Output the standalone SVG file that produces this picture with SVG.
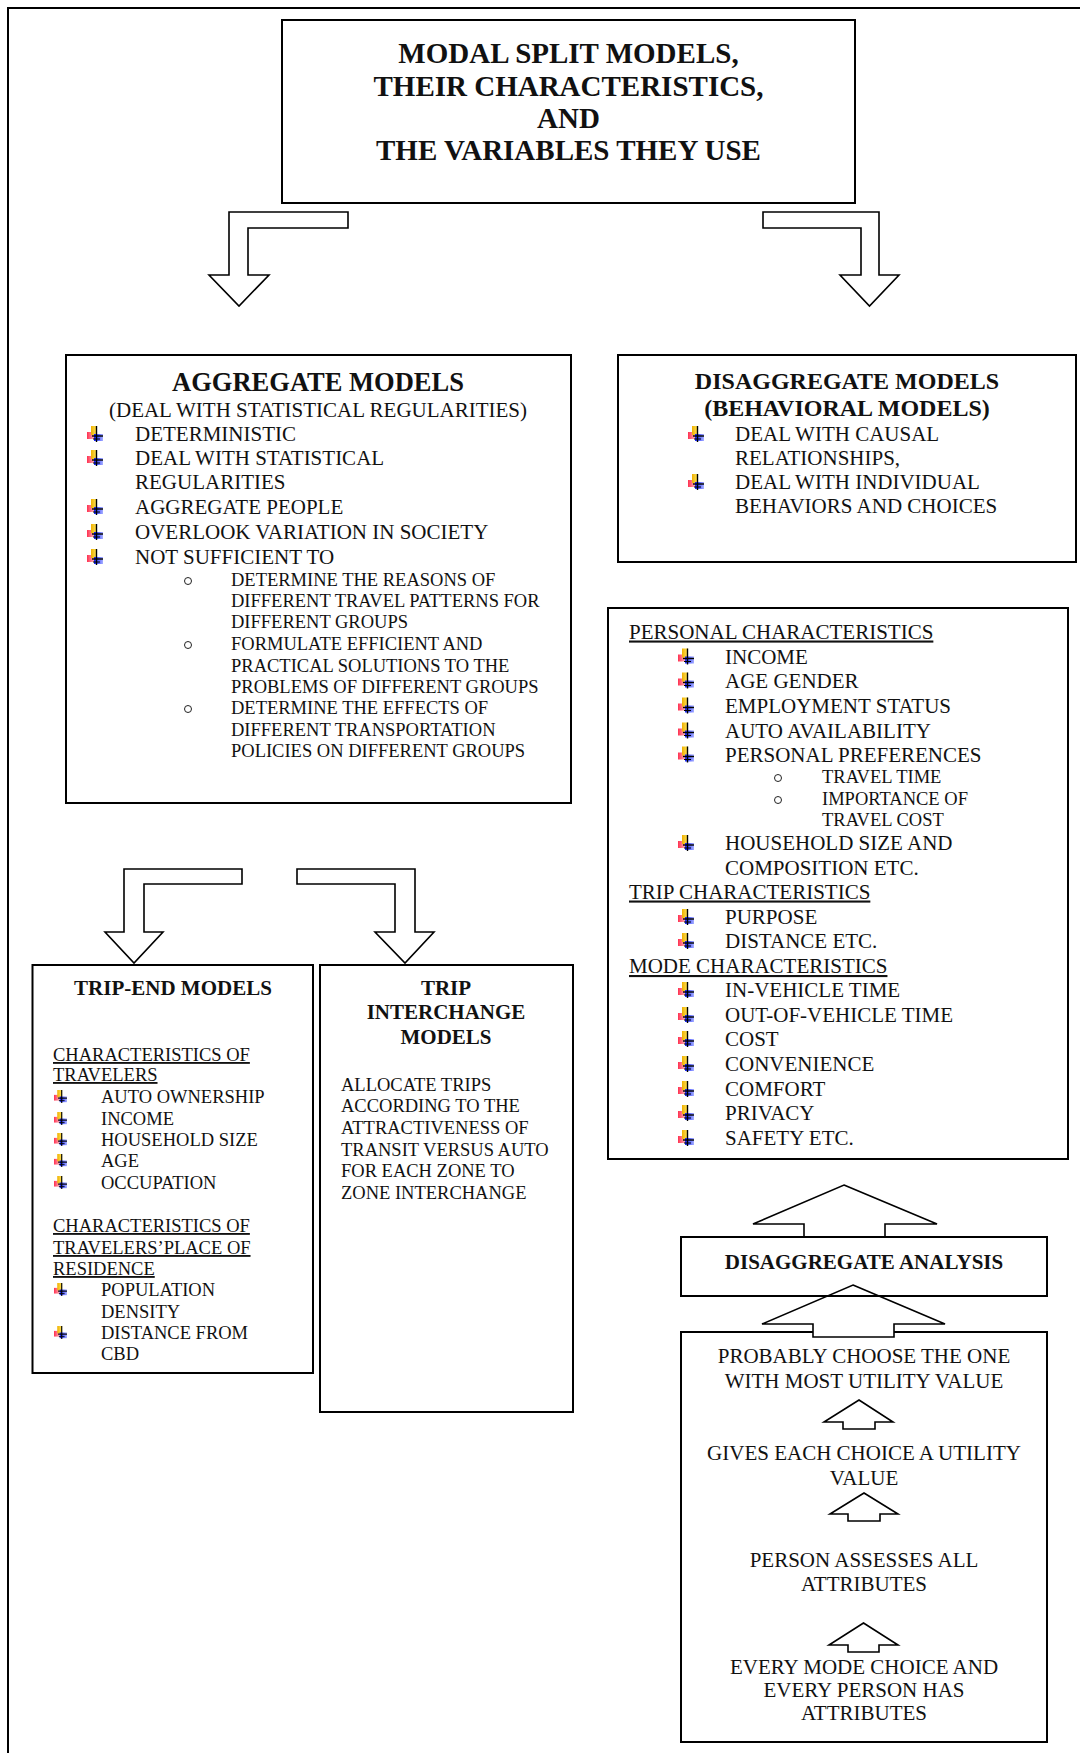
<svg xmlns="http://www.w3.org/2000/svg" xmlns:xlink="http://www.w3.org/1999/xlink" width="1080" height="1753" viewBox="0 0 1080 1753">
<style>
.box{fill:#fff;stroke:#000;stroke-width:2}
.nb{fill:none;stroke:#000;stroke-width:2}
.arr{fill:#fff;stroke:#000;stroke-width:1.6;stroke-linejoin:miter}
text{font-family:"Liberation Serif","Times New Roman",serif;font-size:21px;fill:#111}
.s{font-size:18.5px}
.b{font-weight:bold}
.c{text-anchor:middle}
.u{text-decoration:underline}
.o{fill:none;stroke:#222;stroke-width:1}
</style>
<defs>
<linearGradient id="gy" x1="0" y1="0" x2="1" y2="0"><stop offset="0" stop-color="#f0b000"/><stop offset="1" stop-color="#ffe860"/></linearGradient>
<linearGradient id="gp" x1="0" y1="0" x2="1" y2="0"><stop offset="0" stop-color="#ff3050"/><stop offset="1" stop-color="#ffb0b8"/></linearGradient>
<linearGradient id="gb" x1="0" y1="0" x2="1" y2="0"><stop offset="0" stop-color="#1020ff"/><stop offset="1" stop-color="#a8b0ff"/></linearGradient>
<symbol id="pb" viewBox="0 0 16 16" overflow="visible">
<rect x="0" y="6" width="7" height="7" fill="url(#gp)"/>
<rect x="4" y="0" width="6" height="9" fill="url(#gy)"/>
<rect x="7" y="8" width="9" height="7" fill="url(#gb)"/>
<line x1="9.5" y1="0" x2="9.5" y2="16" stroke="#000" stroke-width="1.4"/>
<line x1="5" y1="10" x2="16" y2="10" stroke="#000" stroke-width="1.4"/>
<line x1="6" y1="13" x2="13" y2="13" stroke="#000" stroke-width="1"/>
</symbol>
</defs>
<rect width="1080" height="1753" fill="#fff"/>
<path d="M8,1753 V8 H1080" fill="none" stroke="#000" stroke-width="2"/>

<g id="title">
<rect class="box" x="282" y="20" width="573" height="183"/>
<text class="b c" style="font-size:29px" x="568.5" y="63">MODAL SPLIT MODELS,</text>
<text class="b c" style="font-size:29px" x="568.5" y="96">THEIR CHARACTERISTICS,</text>
<text class="b c" style="font-size:29px" x="568.5" y="128">AND</text>
<text class="b c" style="font-size:29px" x="568.5" y="160">THE VARIABLES THEY USE</text>
</g>

<g id="aggregate">
<rect class="box" x="66" y="355" width="505" height="448"/>
<text class="b c" style="font-size:26.5px" x="318" y="391">AGGREGATE MODELS</text>
<text class="c" x="318" y="417">(DEAL WITH STATISTICAL REGULARITIES)</text>
<use xlink:href="#pb" x="87" y="426" width="16" height="16"/>
<use xlink:href="#pb" x="87" y="450" width="16" height="16"/>
<use xlink:href="#pb" x="87" y="499" width="16" height="16"/>
<use xlink:href="#pb" x="87" y="524" width="16" height="16"/>
<use xlink:href="#pb" x="87" y="549" width="16" height="16"/>
<text x="135" y="441">DETERMINISTIC</text>
<text x="135" y="465">DEAL WITH STATISTICAL</text>
<text x="135" y="489">REGULARITIES</text>
<text x="135" y="514">AGGREGATE PEOPLE</text>
<text x="135" y="539">OVERLOOK VARIATION IN SOCIETY</text>
<text x="135" y="564">NOT SUFFICIENT TO</text>
<circle class="o" cx="188" cy="581" r="3.5"/>
<circle class="o" cx="188" cy="645" r="3.5"/>
<circle class="o" cx="188" cy="709" r="3.5"/>
<text class="s" x="231" y="586">DETERMINE THE REASONS OF</text>
<text class="s" x="231" y="607">DIFFERENT TRAVEL PATTERNS FOR</text>
<text class="s" x="231" y="628">DIFFERENT GROUPS</text>
<text class="s" x="231" y="650">FORMULATE EFFICIENT AND</text>
<text class="s" x="231" y="672">PRACTICAL SOLUTIONS TO THE</text>
<text class="s" x="231" y="693">PROBLEMS OF DIFFERENT GROUPS</text>
<text class="s" x="231" y="714">DETERMINE THE EFFECTS OF</text>
<text class="s" x="231" y="736">DIFFERENT TRANSPORTATION</text>
<text class="s" x="231" y="757">POLICIES ON DIFFERENT GROUPS</text>
</g>

<g id="disaggregate">
<rect class="box" x="618" y="355" width="458" height="207"/>
<text class="b c" style="font-size:24px" x="847" y="389">DISAGGREGATE MODELS</text>
<text class="b c" style="font-size:24px" x="847" y="416">(BEHAVIORAL MODELS)</text>
<use xlink:href="#pb" x="688" y="426" width="16" height="16"/>
<use xlink:href="#pb" x="688" y="474" width="16" height="16"/>
<text x="735" y="441">DEAL WITH CAUSAL</text>
<text x="735" y="465">RELATIONSHIPS,</text>
<text x="735" y="489">DEAL WITH INDIVIDUAL</text>
<text x="735" y="513">BEHAVIORS AND CHOICES</text>
</g>

<g id="variables">
<rect class="box" x="608" y="608" width="460" height="551"/>
<text class="u" x="629" y="638.5">PERSONAL CHARACTERISTICS</text>
<use xlink:href="#pb" x="678" y="648.5" width="16" height="16"/>
<use xlink:href="#pb" x="678" y="672.5" width="16" height="16"/>
<use xlink:href="#pb" x="678" y="697.5" width="16" height="16"/>
<use xlink:href="#pb" x="678" y="722.5" width="16" height="16"/>
<use xlink:href="#pb" x="678" y="746.5" width="16" height="16"/>
<text x="725" y="663.5">INCOME</text>
<text x="725" y="687.5">AGE GENDER</text>
<text x="725" y="712.5">EMPLOYMENT STATUS</text>
<text x="725" y="737.5">AUTO AVAILABILITY</text>
<text x="725" y="761.5">PERSONAL PREFERENCES</text>
<circle class="o" cx="778" cy="778" r="3.5"/>
<circle class="o" cx="778" cy="800" r="3.5"/>
<text class="s" x="822" y="783">TRAVEL TIME</text>
<text class="s" x="822" y="805">IMPORTANCE OF</text>
<text class="s" x="822" y="826">TRAVEL COST</text>
<use xlink:href="#pb" x="678" y="835" width="16" height="16"/>
<text x="725" y="850">HOUSEHOLD SIZE AND</text>
<text x="725" y="875">COMPOSITION ETC.</text>
<text class="u" x="629" y="898.5">TRIP CHARACTERISTICS</text>
<use xlink:href="#pb" x="678" y="909" width="16" height="16"/>
<use xlink:href="#pb" x="678" y="933" width="16" height="16"/>
<text x="725" y="924">PURPOSE</text>
<text x="725" y="948">DISTANCE ETC.</text>
<text class="u" x="629" y="973">MODE CHARACTERISTICS</text>
<use xlink:href="#pb" x="678" y="982" width="16" height="16"/>
<use xlink:href="#pb" x="678" y="1007" width="16" height="16"/>
<use xlink:href="#pb" x="678" y="1031" width="16" height="16"/>
<use xlink:href="#pb" x="678" y="1056" width="16" height="16"/>
<use xlink:href="#pb" x="678" y="1081" width="16" height="16"/>
<use xlink:href="#pb" x="678" y="1105" width="16" height="16"/>
<use xlink:href="#pb" x="678" y="1130" width="16" height="16"/>
<text x="725" y="997">IN-VEHICLE TIME</text>
<text x="725" y="1022">OUT-OF-VEHICLE TIME</text>
<text x="725" y="1046">COST</text>
<text x="725" y="1071">CONVENIENCE</text>
<text x="725" y="1096">COMFORT</text>
<text x="725" y="1120">PRIVACY</text>
<text x="725" y="1145">SAFETY ETC.</text>
</g>

<g id="trip-end">
<rect class="box" x="32.5" y="965" width="280.5" height="408"/>
<text class="b c" x="173" y="995">TRIP-END MODELS</text>
<text class="s u" x="53" y="1061">CHARACTERISTICS OF</text>
<text class="s u" x="53" y="1081">TRAVELERS</text>
<use xlink:href="#pb" x="54" y="1090" width="13" height="13"/>
<use xlink:href="#pb" x="54" y="1112" width="13" height="13"/>
<use xlink:href="#pb" x="54" y="1133" width="13" height="13"/>
<use xlink:href="#pb" x="54" y="1154" width="13" height="13"/>
<use xlink:href="#pb" x="54" y="1176" width="13" height="13"/>
<text class="s" x="101" y="1103">AUTO OWNERSHIP</text>
<text class="s" x="101" y="1125">INCOME</text>
<text class="s" x="101" y="1146">HOUSEHOLD SIZE</text>
<text class="s" x="101" y="1167">AGE</text>
<text class="s" x="101" y="1189">OCCUPATION</text>
<text class="s u" x="53" y="1232">CHARACTERISTICS OF</text>
<text class="s u" x="53" y="1254">TRAVELERS’PLACE OF</text>
<text class="s u" x="53" y="1275">RESIDENCE</text>
<use xlink:href="#pb" x="54" y="1283" width="13" height="13"/>
<use xlink:href="#pb" x="54" y="1326" width="13" height="13"/>
<text class="s" x="101" y="1296">POPULATION</text>
<text class="s" x="101" y="1318">DENSITY</text>
<text class="s" x="101" y="1339">DISTANCE FROM</text>
<text class="s" x="101" y="1360">CBD</text>
</g>

<g id="trip-interchange">
<rect class="box" x="320" y="965" width="253" height="447"/>
<text class="b c" x="446" y="995">TRIP</text>
<text class="b c" x="446" y="1019">INTERCHANGE</text>
<text class="b c" x="446" y="1044">MODELS</text>
<text class="s" x="341" y="1091">ALLOCATE TRIPS</text>
<text class="s" x="341" y="1112">ACCORDING TO THE</text>
<text class="s" x="341" y="1134">ATTRACTIVENESS OF</text>
<text class="s" x="341" y="1156">TRANSIT VERSUS AUTO</text>
<text class="s" x="341" y="1177">FOR EACH ZONE TO</text>
<text class="s" x="341" y="1199">ZONE INTERCHANGE</text>
</g>

<g id="process">
<rect class="box" x="681" y="1332" width="366" height="410"/>
<text class="c" x="864" y="1363">PROBABLY CHOOSE THE ONE</text>
<text class="c" x="864" y="1387.5">WITH MOST UTILITY VALUE</text>
<text class="c" x="864" y="1460">GIVES EACH CHOICE A UTILITY</text>
<text class="c" x="864" y="1485">VALUE</text>
<text class="c" x="864" y="1567">PERSON ASSESSES ALL</text>
<text class="c" x="864" y="1591">ATTRIBUTES</text>
<text class="c" x="864" y="1674">EVERY MODE CHOICE AND</text>
<text class="c" x="864" y="1697">EVERY PERSON HAS</text>
<text class="c" x="864" y="1720">ATTRIBUTES</text>
</g>

<g id="connectors">
<polygon class="arr" points="348,212 229,212 229,275 209,275 239,306 269,275 248,275 248,228 348,228"/>
<polygon class="arr" points="763,212 879,212 879,275 899,275 869.5,306 840,275 861,275 861,228 763,228"/>
<polygon class="arr" points="242,869 124,869 124,932 105,932 134,963 163,932 144,932 144,884 242,884"/>
<polygon class="arr" points="297,869 415,869 415,932 434,932 405,963 375,932 395,932 395,884 297,884"/>
<polygon class="arr" points="844,1185 937,1224 885,1224 885,1237 804,1237 804,1224 753,1224"/>
<polygon class="arr" points="853,1285 945,1324 894,1324 894,1337 813,1337 813,1324 762,1324"/>
<polygon class="arr" points="859,1400 893,1422 875,1422 875,1429 843,1429 843,1422 824,1422"/>
<polygon class="arr" points="864,1493 898,1514 880,1514 880,1521 848,1521 848,1514 830,1514"/>
<polygon class="arr" points="863.5,1623 898,1645 879,1645 879,1652 848,1652 848,1645 829,1645"/>
</g>

<g id="disaggregate-analysis">
<rect class="nb" x="681" y="1237" width="366" height="59"/>
<text class="b c" x="864" y="1268.5">DISAGGREGATE ANALYSIS</text>
</g>
</svg>
